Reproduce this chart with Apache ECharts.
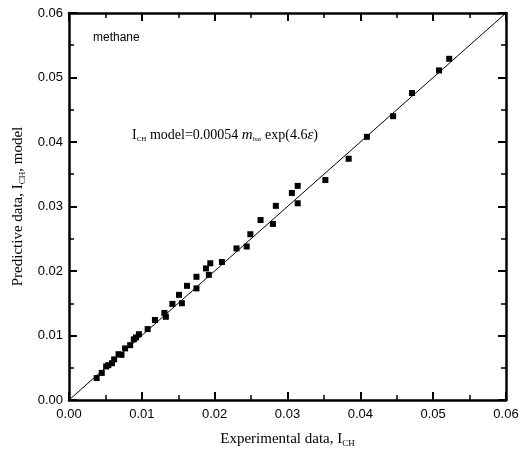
<!DOCTYPE html>
<html lang="en">
<head>
  <meta charset="UTF-8">
  <title>methane</title>
  <style type="text/css">
    body { margin: 0; background: #fff; }
    #main { width: 529px; height: 458px; }
  </style>
</head>
<body>
  <div id="main"></div>
  <script type="text/javascript" src="https://cdn.jsdelivr.net/npm/echarts@6/dist/echarts.min.js"></script>
  <script type="text/javascript">
    // experimental vs predictive I_CH
    var expData = [0.0038, 0.0045, 0.0051, 0.0054, 0.0059, 0.0062, 0.0068, 0.0072, 0.0077, 0.0084,
      0.0089, 0.0092, 0.0096, 0.0108, 0.0118, 0.0133, 0.0131, 0.0142, 0.0155, 0.0151,
      0.0162, 0.0175, 0.0175, 0.0192, 0.0188, 0.0194, 0.0210, 0.0230, 0.0244, 0.0249,
      0.0263, 0.0280, 0.0284, 0.0314, 0.0306, 0.0314, 0.0352, 0.0384, 0.0409, 0.0445,
      0.0471, 0.0508, 0.0522]
    var predData = [0.0034, 0.0042, 0.0052, 0.0054, 0.0057, 0.0063, 0.0071, 0.0070, 0.0080, 0.0085,
      0.0094, 0.0097, 0.0102, 0.0110, 0.0124, 0.0129, 0.0135, 0.0149, 0.0150, 0.0163,
      0.0177, 0.0173, 0.0191, 0.0194, 0.0204, 0.0212, 0.0214, 0.0235, 0.0238, 0.0257,
      0.0279, 0.0273, 0.0301, 0.0305, 0.0321, 0.0332, 0.0341, 0.0374, 0.0408, 0.0440,
      0.0476, 0.0511, 0.0529]
    var fitLine = [[0, 0], [0.06, 0.06]]
    var tickLabels = ['0.00', '0.01', '0.02', '0.03', '0.04', '0.05', '0.06']

    var points = []
    for (var i = 0; i < expData.length; i++) {
      points.push([expData[i], predData[i]])
    }

    function fmt(v) {
      var k = Math.round(v * 100)
      return tickLabels[k] || ''
    }

    var labelFont = { fontFamily: 'Liberation Sans', fontSize: 13, color: '#000' }

    // frame axis, ticks pointing in; minor ticks come from a second axis
    // with half the interval (minorTick ignores inside here)
    function frameAxis(pos, minor, extra) {
      var a = {
        type: 'value', position: pos, min: 0, max: 0.06,
        interval: minor ? 0.005 : 0.01,
        axisLine: { show: !minor, onZero: false, lineStyle: { color: '#000', width: 2.5 } },
        axisTick: { inside: true, length: minor ? 5 : 8, lineStyle: { color: '#000', width: minor ? 1.5 : 2 } },
        splitLine: { show: false },
        axisLabel: { show: false }
      }
      return Object.assign(a, extra || {})
    }

    var titleRich = {
      t: { fontFamily: 'Liberation Serif', fontSize: 15, color: '#000' },
      s: { fontFamily: 'Liberation Serif', fontSize: 9, color: '#000', padding: [9, 0, 0, 0] }
    }

    var myChart = echarts.init(document.getElementById('main'))
    var option = {
      backgroundColor: '#fff',
      animation: false,
      grid: { left: 69, top: 13, width: 437, height: 387 },
      xAxis: [frameAxis('bottom', false, {
        axisLabel: Object.assign({ margin: 8, formatter: fmt }, labelFont),
        name: '{t|Experimental data, I}{s|CH}',
        nameLocation: 'middle', nameGap: 30,
        nameTextStyle: { rich: titleRich }
      }), frameAxis('bottom', true), frameAxis('top', false), frameAxis('top', true)],
      yAxis: [frameAxis('left', false, {
        axisLabel: Object.assign({ margin: 6, formatter: fmt }, labelFont),
        name: '{t|Predictive data, I}{s|CH}{t|, model}',
        nameLocation: 'middle', nameGap: 41, nameRotate: 90,
        nameTextStyle: { rich: titleRich }
      }), frameAxis('left', true), frameAxis('right', false), frameAxis('right', true)],
      graphic: [{
        type: 'text', left: 93, top: 32,
        style: { text: 'methane', fontFamily: 'Liberation Sans', fontSize: 12, fill: '#000' }
      }, {
        type: 'text', left: 132, top: 128,
        style: {
          text: '{t|I}{s|CH}{t| model=0.00054 }{i|m}{s|bar}{t| exp(4.6}{i|ε}{t|)}',
          rich: {
            t: { fontFamily: 'Liberation Serif', fontSize: 14, fill: '#000' },
            i: { fontFamily: 'Liberation Serif', fontSize: 15, fontStyle: 'italic', fill: '#000' },
            s: { fontFamily: 'Liberation Serif', fontSize: 7, fill: '#000', padding: [8, 0, 0, 0] }
          }
        }
      }],
      series: [{
        type: 'line',
        data: fitLine,
        symbol: 'none',
        lineStyle: { color: '#000', width: 1 },
        z: 1
      }, {
        type: 'scatter',
        data: points,
        symbol: 'rect',
        symbolSize: 6,
        itemStyle: { color: '#000', opacity: 1 },
        z: 2
      }]
    }
    myChart.setOption(option)
  </script>
</body>
</html>
